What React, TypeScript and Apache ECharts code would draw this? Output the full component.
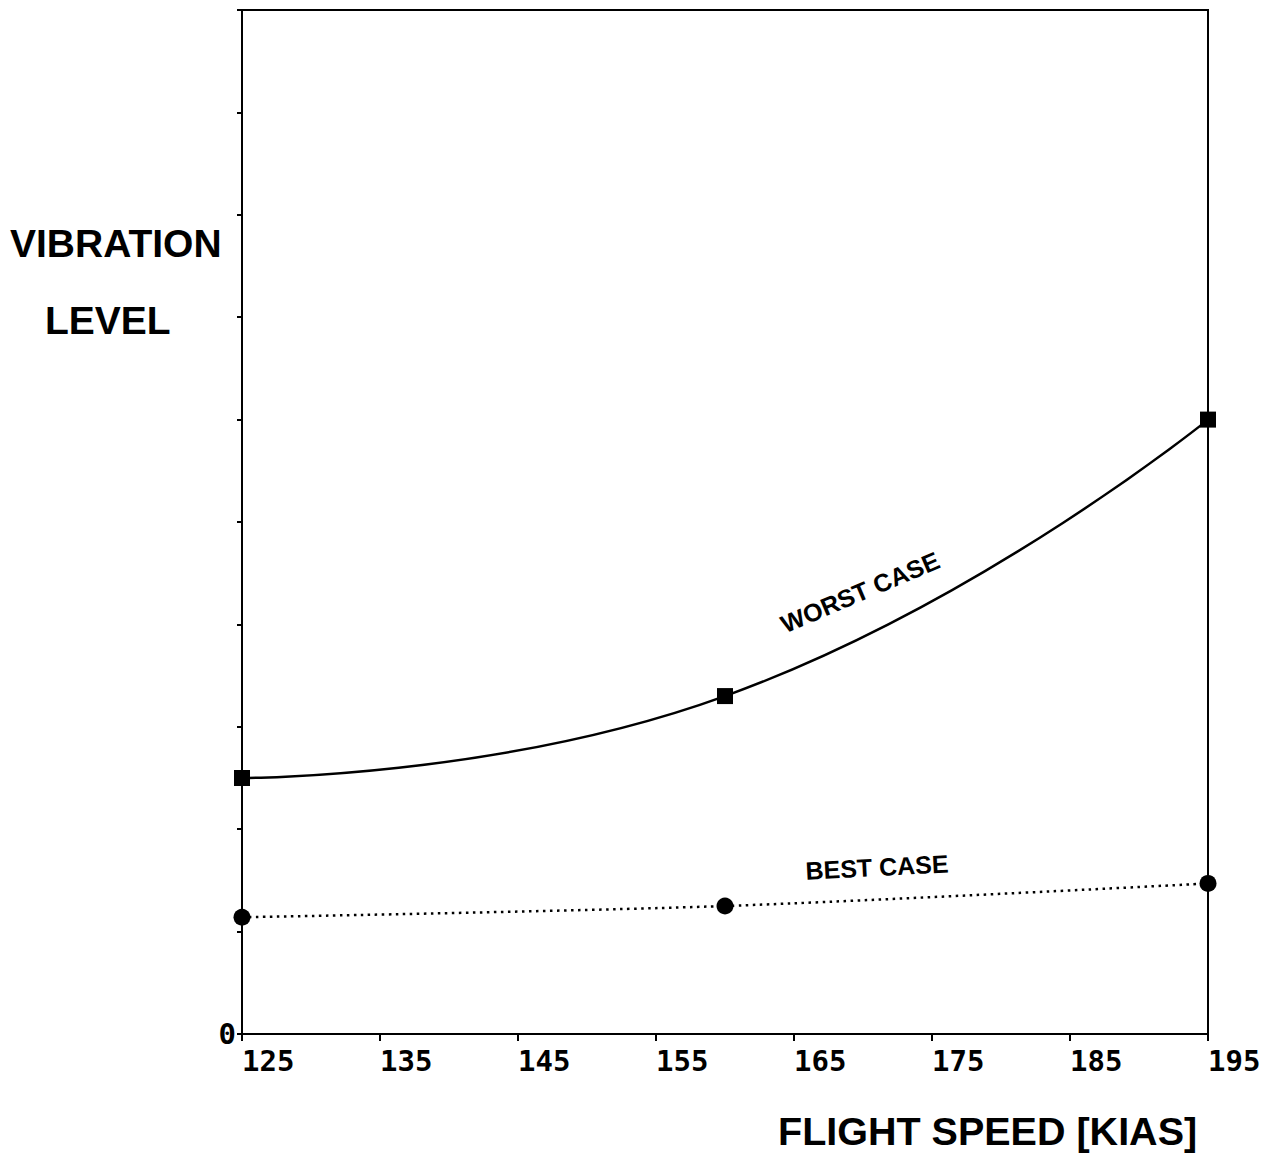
import React, { useEffect, useRef } from "react";
import * as echarts from "echarts";

const X_MIN = 125;
const X_MAX = 195;
const X_INTERVAL = 10;
const Y_MIN = 0;
const Y_MAX = 10;
const speeds = [125, 160, 195];
const worstCase = [2.5, 3.3, 6.0];
const bestCase = [1.14, 1.25, 1.47];
const yAxisTitle = ["VIBRATION", "LEVEL"];
const xAxisTitle = "FLIGHT SPEED [KIAS]";
const worstLabel = "WORST CASE";
const bestLabel = "BEST CASE";

export default function App() {
  const ref = useRef<HTMLDivElement>(null);
  useEffect(() => {
    if (!ref.current) return;
    const chart = echarts.init(ref.current, null, { renderer: "svg" });
    const toData = (vals: number[]) => speeds.map((s, i) => [s - X_MIN, vals[i]]);
    const boldSans = "'Liberation Sans', Arial, sans-serif";
    const mono = "'DejaVu Sans Mono', 'Liberation Mono', monospace";
    chart.setOption({
      animation: false,
      backgroundColor: "#ffffff",
      grid: {
        left: 242,
        right: 59,
        top: 10,
        bottom: 123,
        show: true,
        borderColor: "#000",
        borderWidth: 2,
        backgroundColor: "transparent",
      },
      xAxis: {
        type: "value",
        min: 0,
        max: X_MAX - X_MIN,
        interval: X_INTERVAL,
        axisLine: { show: true, lineStyle: { color: "#000", width: 2 } },
        axisTick: { show: true, inside: false, length: 7, lineStyle: { color: "#000", width: 2 } },
        splitLine: { show: false },
        axisLabel: {
          formatter: (v: number) => String(v + X_MIN),
          color: "#000",
          fontFamily: mono,
          fontWeight: "bold",
          fontSize: 29,
          align: "left",
          margin: 12,
        },
      },
      yAxis: {
        type: "value",
        min: Y_MIN,
        max: Y_MAX,
        interval: 1,
        axisLine: { show: true, lineStyle: { color: "#000", width: 2 } },
        axisTick: { show: true, inside: false, length: 5, lineStyle: { color: "#000", width: 2 } },
        splitLine: { show: false },
        axisLabel: {
          formatter: (v: number) => (v === 0 ? "0" : ""),
          color: "#000",
          fontFamily: mono,
          fontWeight: "bold",
          fontSize: 29,
          margin: 6,
        },
      },
      series: [
        {
          name: worstLabel,
          type: "line",
          data: toData(worstCase),
          smooth: 0.5,
          symbol: "rect",
          symbolSize: 16,
          itemStyle: { color: "#000" },
          lineStyle: { color: "#000", width: 2.5 },
        },
        {
          name: bestLabel,
          type: "line",
          data: toData(bestCase),
          smooth: 0.3,
          symbol: "circle",
          symbolSize: 17,
          itemStyle: { color: "#000" },
          lineStyle: { color: "#000", width: 2.5, type: [2.5, 4.5] },
        },
      ],
      graphic: [
        {
          type: "text",
          left: 10,
          top: 224,
          style: { text: yAxisTitle[0], fill: "#000", font: `bold 39px ${boldSans}` },
        },
        {
          type: "text",
          left: 45,
          top: 301,
          style: { text: yAxisTitle[1], fill: "#000", font: `bold 39px ${boldSans}` },
        },
        {
          type: "text",
          left: 778,
          top: 1111,
          style: { text: xAxisTitle, fill: "#000", font: `bold 39.5px ${boldSans}` },
        },
        {
          type: "text",
          x: 860,
          y: 592,
          rotation: (23 * Math.PI) / 180,
          style: {
            text: worstLabel,
            fill: "#000",
            font: `bold 25px ${boldSans}`,
            align: "center",
            verticalAlign: "middle",
          },
        },
        {
          type: "text",
          x: 877,
          y: 867,
          rotation: (3 * Math.PI) / 180,
          style: {
            text: bestLabel,
            fill: "#000",
            font: `bold 25px ${boldSans}`,
            align: "center",
            verticalAlign: "middle",
          },
        },
      ],
    });
    return () => chart.dispose();
  }, []);
  return (
    <div
      ref={ref}
      style={{ position: "absolute", left: 0, top: 0, width: 1267, height: 1157 }}
    />
  );
}
